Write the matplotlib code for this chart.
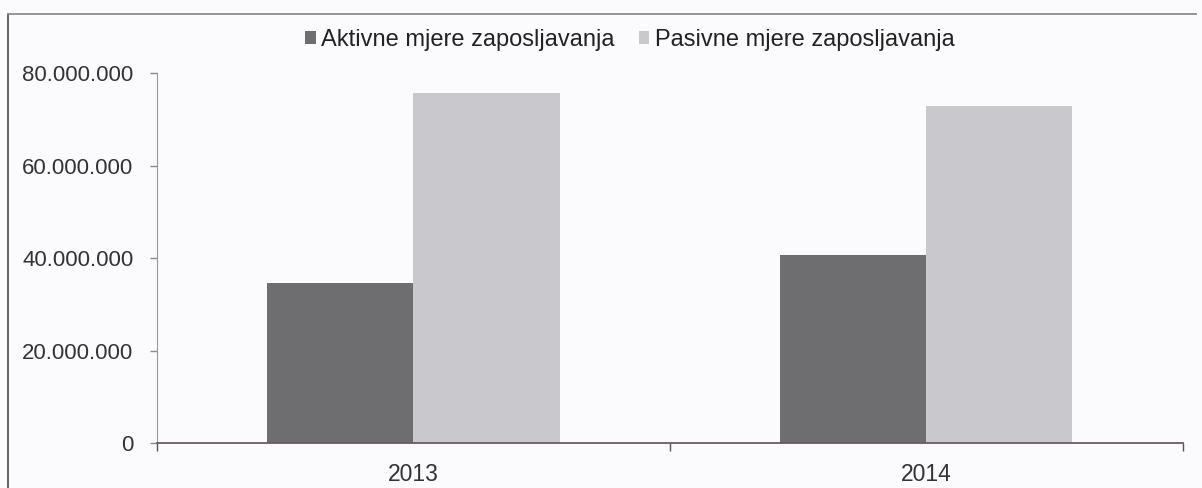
import matplotlib
matplotlib.use('Agg')
import matplotlib.pyplot as plt
import numpy as np
from matplotlib.patches import Patch
from matplotlib.lines import Line2D
from matplotlib.ticker import FuncFormatter

plt.rcParams['font.family'] = ['Liberation Sans', 'DejaVu Sans']

# podaci
godine = ['2013', '2014']
aktivne = [34600000, 40700000]
pasivne = [75600000, 72900000]
serije = ['Aktivne mjere zaposljavanja', 'Pasivne mjere zaposljavanja']
boje = ['#6e6e70', '#c9c9cd']

fig = plt.figure(figsize=(12.02, 4.88), dpi=100, facecolor='#fbfbfd')
ax = fig.add_axes([0.1306, 0.0916, 0.984 - 0.1306, 0.8504 - 0.0916])
ax.set_facecolor('#fbfbfd')

x = np.arange(len(godine))
w = 0.285
ax.bar(x - w / 2, aktivne, width=w, color=boje[0], linewidth=0)
ax.bar(x + w / 2, pasivne, width=w, color=boje[1], linewidth=0)

ax.set_xlim(-0.5, 1.5)
ax.set_ylim(0, 80000000)
ax.set_yticks([0, 20000000, 40000000, 60000000, 80000000])
ax.yaxis.set_major_formatter(FuncFormatter(lambda v, p: f'{int(v):,}'.replace(',', '.')))
ax.tick_params(axis='y', length=5, width=1, color='#888888', labelsize=16,
               labelcolor='#333333', pad=12)

# kategorije: oznake u sredini, crtice na granicama
ax.set_xticks([-0.5, 0.5, 1.5])
ax.set_xticklabels([])
ax.set_xticks(x, minor=True)
ax.set_xticklabels(godine, minor=True)
ax.tick_params(axis='x', which='major', length=6, width=1, color='#555555')
ax.tick_params(axis='x', which='minor', length=0, labelsize=16.5,
               labelcolor='#333333', pad=14)

for s in ['top', 'right']:
    ax.spines[s].set_visible(False)
ax.spines['left'].set_color('#999999')
ax.spines['bottom'].set_color('#6a5a66')
ax.spines['bottom'].set_linewidth(1.3)

handles = [Patch(facecolor=boje[0], edgecolor='none'),
           Patch(facecolor=boje[1], edgecolor='none')]
fig.legend(handles, serije, loc='center', bbox_to_anchor=(0.524, 0.918), ncol=2,
           frameon=False, fontsize=17, handlelength=0.45, handleheight=0.45,
           handletextpad=0.25, columnspacing=1.0, labelcolor='#222222')

# okvir slike
fig.add_artist(Line2D([8 / 1202, 8 / 1202], [0, 1 - 14 / 488], transform=fig.transFigure,
                      color='#555555', lw=1.3))
fig.add_artist(Line2D([8 / 1202, 1196 / 1202], [1 - 14 / 488, 1 - 14 / 488],
                      transform=fig.transFigure, color='#8a8a90', lw=1.3))

plt.savefig('out.png', dpi=100, facecolor=fig.get_facecolor())
plt.close()
